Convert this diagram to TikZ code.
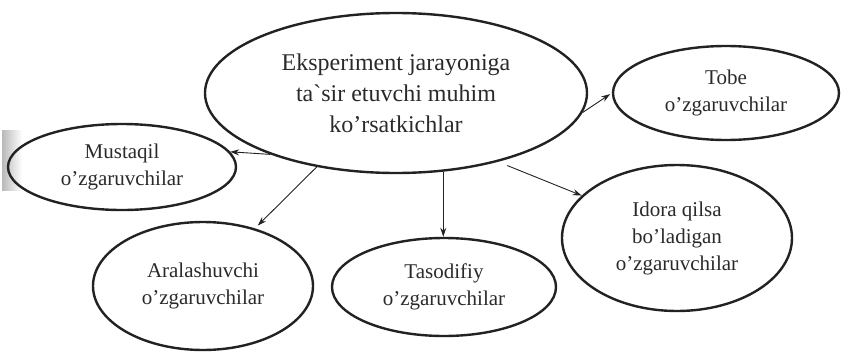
\documentclass[tikz,border=0pt]{standalone}
\usepackage{fontspec}
\setmainfont{Liberation Serif}
\usetikzlibrary{shapes.geometric,arrows.meta}
\definecolor{ink}{HTML}{222222}
\definecolor{txt}{HTML}{2a2a2a}
\tikzset{
  oval/.style={ellipse, draw=ink, line width=2.4pt, inner sep=0pt, align=center,
    text=txt, font=\fontsize{21}{27}\selectfont},
  arr/.style={-{Stealth[length=9pt,width=6pt]}, draw=ink, line width=0.9pt},
}
\begin{document}
\begin{tikzpicture}[x=1pt,y=-1pt]
\useasboundingbox (0,0) rectangle (841,351);
\fill[left color=gray!55, right color=white] (2,130) rectangle (22,190);
\node[oval, minimum width=382pt, minimum height=160pt, font=\fontsize{24}{31}\selectfont] (main) at (396,93)
  {Eksperiment jarayoniga\\ta\textasciigrave sir etuvchi muhim\\ko’rsatkichlar};
\node[oval, minimum width=228pt, minimum height=86pt] (must) at (122,167)
  {Mustaqil\\o’zgaruvchilar};
\node[oval, minimum width=226pt, minimum height=94pt] (tobe) at (726,93)
  {Tobe\\o’zgaruvchilar};
\node[oval, minimum width=220pt, minimum height=128pt] (aral) at (203,286)
  {Aralashuvchi\\o’zgaruvchilar};
\node[oval, minimum width=224pt, minimum height=98pt] (taso) at (444,287)
  {Tasodifiy\\o’zgaruvchilar};
\node[oval, minimum width=230pt, minimum height=146pt] (idora) at (677,238)
  {Idora qilsa\\bo’ladigan\\o’zgaruvchilar};
\draw[arr] (main.206) -- (must.8);
\draw[arr, shorten >=4pt] (main.223) -- (aral.48);
\draw[arr] (main.301) -- (main.301 |- taso.north);
\draw[arr, shorten <=10pt] (main.326) -- (idora.156);
\draw[arr, shorten >=2pt] (main.354) -- (tobe.180);
\end{tikzpicture}
\end{document}
